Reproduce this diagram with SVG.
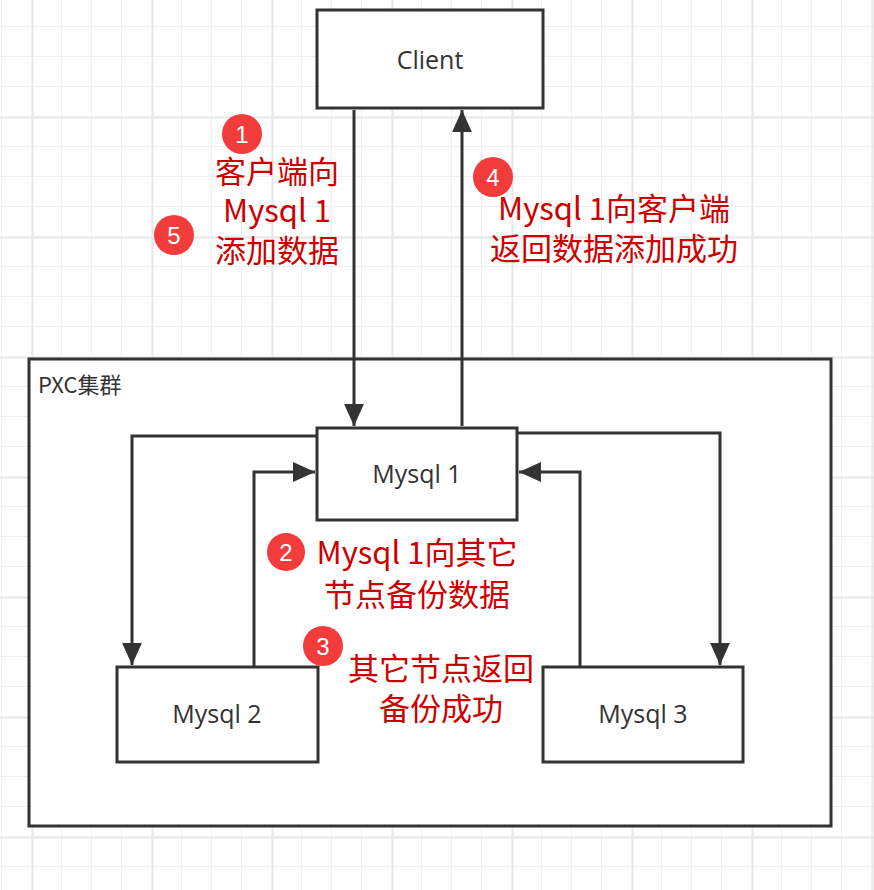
<svg xmlns="http://www.w3.org/2000/svg" width="874" height="890" viewBox="0 0 874 890">
<defs>
<pattern id="minor" x="2" y="-3" width="30" height="30" patternUnits="userSpaceOnUse"><path d="M30 0V30M0 30H30" fill="none" stroke="#f0f0f0" stroke-width="2"/></pattern>
<pattern id="major" x="32" y="117" width="120" height="120" patternUnits="userSpaceOnUse"><path d="M0.5 0V120M0 0.5H120" fill="none" stroke="#e8e8e8" stroke-width="2"/></pattern>
<marker id="a" viewBox="0 0 20 20" refX="20" refY="10" markerWidth="22" markerHeight="22" orient="auto" markerUnits="userSpaceOnUse"><path d="M0 1L20 10L0 19Z" fill="#333"/></marker>
</defs>
<style>
.box{fill:#fff;stroke:#333;stroke-width:3}
.lbl{font-family:"Open Sans","Liberation Sans",sans-serif;font-size:25px;fill:#333;text-anchor:middle}
.red{font-family:"Noto Sans CJK SC","Liberation Sans",sans-serif;font-size:31px;fill:#cc0000;text-anchor:middle}
.c circle{fill:#f23c3c}
.c text{font-family:"Liberation Sans",sans-serif;font-size:24px;fill:#fff;text-anchor:middle}
.ln{fill:none;stroke:#333;stroke-width:3;marker-end:url(#a)}
</style>
<rect width="874" height="890" fill="#fff"/>
<rect width="874" height="890" fill="url(#minor)"/>
<rect width="874" height="890" fill="url(#major)"/>
<g id="pxc"><rect x="29" y="359" width="802" height="467" fill="#fff" stroke="#333" stroke-width="3"/>
<text x="38" y="393" font-family="Noto Sans CJK SC,Liberation Sans,sans-serif" font-size="22" fill="#333">PXC集群</text></g>
<g id="client"><rect class="box" x="317" y="10" width="226" height="98"/><text class="lbl" x="430" y="69">Client</text></g>
<g id="mysql1"><rect class="box" x="317" y="428" width="200" height="92"/><text class="lbl" x="417" y="483">Mysql 1</text></g>
<g id="mysql2"><rect class="box" x="117" y="667" width="201" height="95"/><text class="lbl" x="217" y="723">Mysql 2</text></g>
<g id="mysql3"><rect class="box" x="543" y="667" width="200" height="95"/><text class="lbl" x="643" y="723">Mysql 3</text></g>
<g id="connectors">
<path class="ln" d="M354 110V426"/>
<path class="ln" d="M462 426V110"/>
<path class="ln" d="M316 436H132V665"/>
<path class="ln" d="M254 666V472H315"/>
<path class="ln" d="M518 433H720V665"/>
<path class="ln" d="M580 666V472H519"/>
</g>
<g id="labels">
<text class="red" x="277" y="183">客户端向</text>
<text class="red" x="277" y="222">Mysql 1</text>
<text class="red" x="277" y="262">添加数据</text>
<text class="red" x="614" y="220">Mysql 1向客户端</text>
<text class="red" x="614" y="260">返回数据添加成功</text>
<text class="red" x="417" y="564">Mysql 1向其它</text>
<text class="red" x="417" y="606">节点备份数据</text>
<text class="red" x="441" y="680">其它节点返回</text>
<text class="red" x="441" y="720">备份成功</text>
</g>
<g class="c" id="badges">
<circle cx="242" cy="134" r="20"/><text x="242" y="143">1</text>
<circle cx="174" cy="235" r="20"/><text x="174" y="244">5</text>
<circle cx="493" cy="177" r="20"/><text x="493" y="186">4</text>
<circle cx="286" cy="552" r="19"/><text x="286" y="561">2</text>
<circle cx="323" cy="646" r="20"/><text x="323" y="655">3</text>
</g>
</svg>
